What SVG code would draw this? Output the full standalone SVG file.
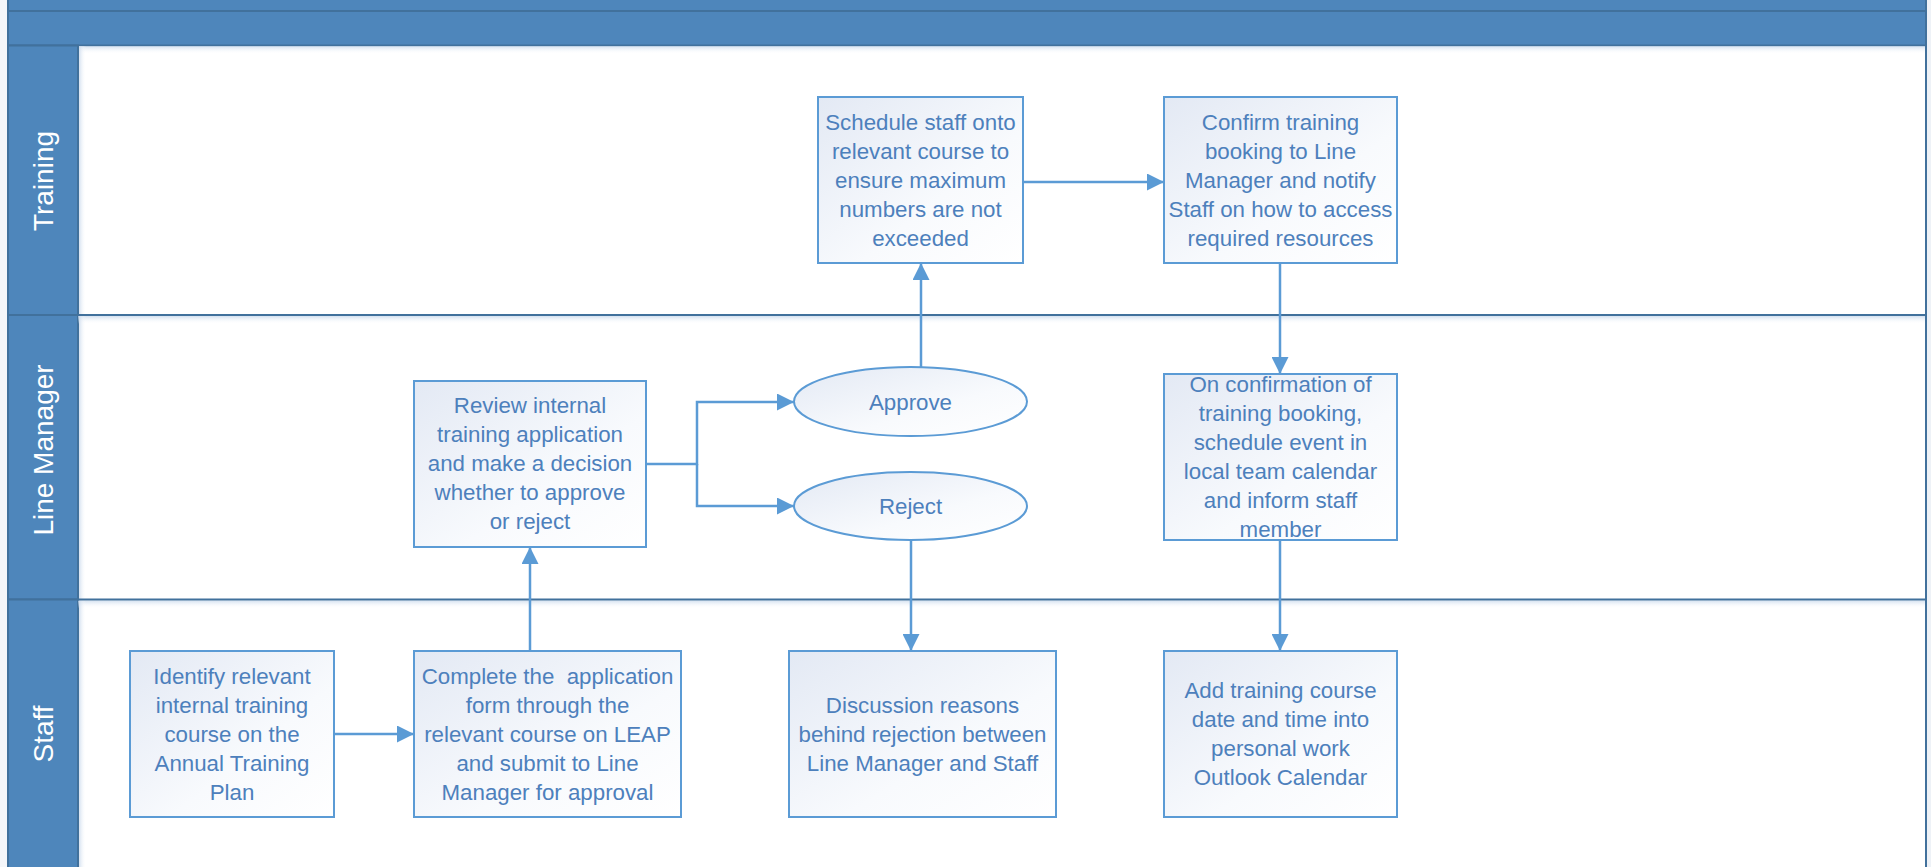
<svg xmlns="http://www.w3.org/2000/svg" width="1931" height="867" viewBox="0 0 1931 867">
  <style>
    .band { fill: #4e86bb; stroke: #41719c; stroke-width: 2; }
    .sep { stroke: #41719c; stroke-width: 2; fill: none; }
    .lane-label { font-family: "Liberation Sans", Arial, sans-serif; font-size: 28px; fill: #ffffff; text-anchor: middle; }
    .box { fill: url(#boxFill); stroke: #5b9bd5; stroke-width: 2; }
    .label { font-family: "Liberation Sans", Arial, sans-serif; font-size: 22.3px; fill: #4d80bc; text-anchor: middle; white-space: pre; }
    .conn { fill: none; stroke: #5b9bd5; stroke-width: 2.5; }
  </style>
  <defs>
    <linearGradient id="boxFill" x1="0" y1="0" x2="1" y2="1">
      <stop offset="0" stop-color="#e3e9f4"/>
      <stop offset="0.6" stop-color="#f8fafd"/>
      <stop offset="1" stop-color="#ffffff"/>
    </linearGradient>
    <linearGradient id="shadeDown" x1="0" y1="0" x2="0" y2="1">
      <stop offset="0" stop-color="#c9d9ec" stop-opacity="0.8"/>
      <stop offset="1" stop-color="#ffffff" stop-opacity="0"/>
    </linearGradient>
    <linearGradient id="shadeRight" x1="0" y1="0" x2="1" y2="0">
      <stop offset="0" stop-color="#c9d9ec" stop-opacity="0.8"/>
      <stop offset="1" stop-color="#ffffff" stop-opacity="0"/>
    </linearGradient>
    <marker id="arrow" markerUnits="userSpaceOnUse" markerWidth="17" markerHeight="17" viewBox="0 0 17 17" refX="17" refY="8.5" orient="auto">
      <path d="M0,0 L17,8.5 L0,17 Z" fill="#5b9bd5"/>
    </marker>
  </defs>

  <!-- page background -->
  <rect x="0" y="0" width="1931" height="867" fill="#ffffff"/>
  <rect x="0" y="0" width="8" height="867" fill="#f4f6f9"/>
  <rect x="1927" y="0" width="4" height="867" fill="#eef2f7"/>

  <!-- pool header -->
  <g id="header">
    <rect class="band" x="8" y="-2" width="1918" height="13"/>
    <rect class="band" x="8" y="11" width="1918" height="34.5"/>
    <rect x="78" y="46" width="1848" height="8" fill="url(#shadeDown)"/>
  </g>

  <!-- swimlanes -->
  <g id="lane-training">
    <rect class="band" x="8" y="45.5" width="70" height="269.5"/>
    <text class="lane-label" transform="translate(53,181) rotate(-90)">Training</text>
  </g>
  <g id="lane-line-manager">
    <rect class="band" x="8" y="315" width="70" height="284.5"/>
    <rect x="78" y="316" width="1848" height="8" fill="url(#shadeDown)"/>
    <text class="lane-label" transform="translate(53,450) rotate(-90)">Line Manager</text>
  </g>
  <g id="lane-staff">
    <rect class="band" x="8" y="599.5" width="70" height="270"/>
    <rect x="78" y="600.5" width="1848" height="8" fill="url(#shadeDown)"/>
    <text class="lane-label" transform="translate(53,734) rotate(-90)">Staff</text>
  </g>
  <rect x="79" y="46" width="7" height="821" fill="url(#shadeRight)"/>
  <g id="lane-lines">
    <line class="sep" x1="78" y1="315" x2="1926" y2="315"/>
    <line class="sep" x1="78" y1="599.5" x2="1926" y2="599.5"/>
    <line class="sep" x1="1926" y1="0" x2="1926" y2="867"/>
    <line class="sep" x1="8" y1="0" x2="8" y2="867"/>
  </g>

  <!-- connectors -->
  <g id="connectors">
    <path class="conn" d="M334,734 H414" marker-end="url(#arrow)"/>
    <path class="conn" d="M530,651 V547" marker-end="url(#arrow)"/>
    <path class="conn" d="M646,464 H697 V402 H794" marker-end="url(#arrow)"/>
    <path class="conn" d="M697,464 V506 H794" marker-end="url(#arrow)"/>
    <path class="conn" d="M921,367 V263" marker-end="url(#arrow)"/>
    <path class="conn" d="M911,540 V651" marker-end="url(#arrow)"/>
    <path class="conn" d="M1023,182 H1164" marker-end="url(#arrow)"/>
    <path class="conn" d="M1280,263 V374" marker-end="url(#arrow)"/>
    <path class="conn" d="M1280,540 V651" marker-end="url(#arrow)"/>
  </g>

  <!-- Training lane -->
  <g id="schedule-staff">
    <rect class="box" x="818" y="97" width="205" height="166"/>
    <text class="label" x="920.5" y="130">Schedule staff onto</text>
    <text class="label" x="920.5" y="159">relevant course to</text>
    <text class="label" x="920.5" y="188">ensure maximum</text>
    <text class="label" x="920.5" y="217">numbers are not</text>
    <text class="label" x="920.5" y="246">exceeded</text>
  </g>
  <g id="confirm-booking">
    <rect class="box" x="1164" y="97" width="233" height="166"/>
    <text class="label" x="1280.5" y="130">Confirm training</text>
    <text class="label" x="1280.5" y="159">booking to Line</text>
    <text class="label" x="1280.5" y="188">Manager and notify</text>
    <text class="label" x="1280.5" y="217">Staff on how to access</text>
    <text class="label" x="1280.5" y="246">required resources</text>
  </g>

  <!-- Line Manager lane -->
  <g id="review-application">
    <rect class="box" x="414" y="381" width="232" height="166"/>
    <text class="label" x="530" y="413">Review internal</text>
    <text class="label" x="530" y="442">training application</text>
    <text class="label" x="530" y="471">and make a decision</text>
    <text class="label" x="530" y="500">whether to approve</text>
    <text class="label" x="530" y="529">or reject</text>
  </g>
  <g id="approve">
    <ellipse class="box" cx="910.5" cy="401.5" rx="116.5" ry="34.5"/>
    <text class="label" x="910.5" y="410">Approve</text>
  </g>
  <g id="reject">
    <ellipse class="box" cx="910.5" cy="506" rx="116.5" ry="34"/>
    <text class="label" x="910.5" y="514">Reject</text>
  </g>
  <g id="schedule-event">
    <rect class="box" x="1164" y="374" width="233" height="166"/>
    <text class="label" x="1280.5" y="392">On confirmation of</text>
    <text class="label" x="1280.5" y="421">training booking,</text>
    <text class="label" x="1280.5" y="450">schedule event in</text>
    <text class="label" x="1280.5" y="479">local team calendar</text>
    <text class="label" x="1280.5" y="508">and inform staff</text>
    <text class="label" x="1280.5" y="537">member</text>
  </g>

  <!-- Staff lane -->
  <g id="identify-course">
    <rect class="box" x="130" y="651" width="204" height="166"/>
    <text class="label" x="232" y="684">Identify relevant</text>
    <text class="label" x="232" y="713">internal training</text>
    <text class="label" x="232" y="742">course on the</text>
    <text class="label" x="232" y="771">Annual Training</text>
    <text class="label" x="232" y="800">Plan</text>
  </g>
  <g id="complete-form">
    <rect class="box" x="414" y="651" width="267" height="166"/>
    <text class="label" x="547.5" y="684">Complete the  application</text>
    <text class="label" x="547.5" y="713">form through the</text>
    <text class="label" x="547.5" y="742">relevant course on LEAP</text>
    <text class="label" x="547.5" y="771">and submit to Line</text>
    <text class="label" x="547.5" y="800">Manager for approval</text>
  </g>
  <g id="discuss-rejection">
    <rect class="box" x="789" y="651" width="267" height="166"/>
    <text class="label" x="922.5" y="713">Discussion reasons</text>
    <text class="label" x="922.5" y="742">behind rejection between</text>
    <text class="label" x="922.5" y="771">Line Manager and Staff</text>
  </g>
  <g id="add-to-calendar">
    <rect class="box" x="1164" y="651" width="233" height="166"/>
    <text class="label" x="1280.5" y="698">Add training course</text>
    <text class="label" x="1280.5" y="727">date and time into</text>
    <text class="label" x="1280.5" y="756">personal work</text>
    <text class="label" x="1280.5" y="785">Outlook Calendar</text>
  </g>
</svg>
